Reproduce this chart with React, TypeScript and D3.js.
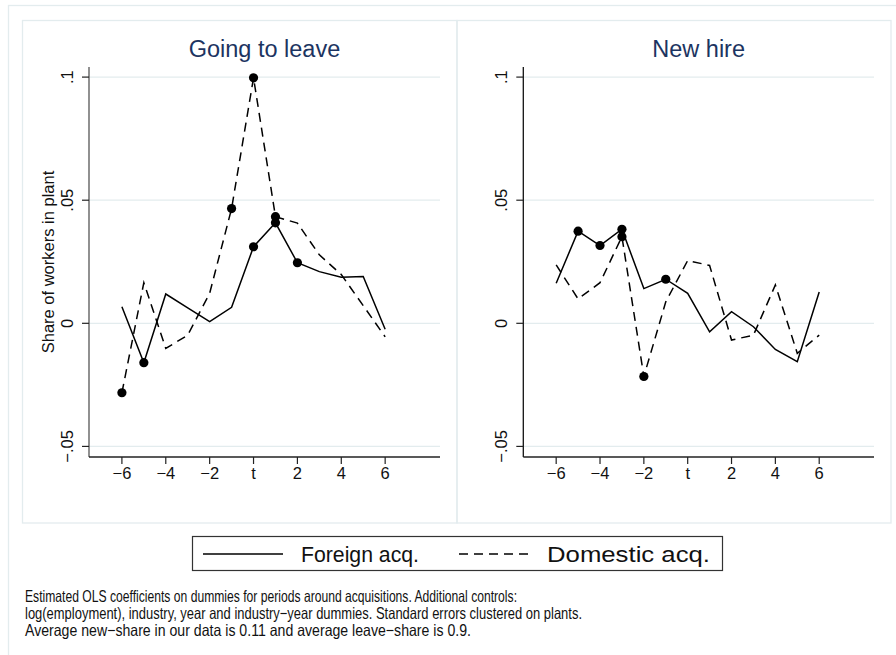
import React from "react";
import * as d3 from "d3";

// ---------- data ----------
const periods = [-6, -5, -4, -3, -2, -1, 0, 1, 2, 3, 4, 5, 6];
const xTicks = [-6, -4, -2, 0, 2, 4, 6];
const xTickLabels = ["−6", "−4", "−2", "t", "2", "4", "6"];
const yTicks = [-0.05, 0, 0.05, 0.1];
const yTickLabels = ["−.05", "0", ".05", ".1"];

const leaveForeign = [0.0067, -0.016, 0.0119, 0.0063, 0.0007, 0.0065, 0.0311, 0.0408, 0.0246, 0.021, 0.0187, 0.019, -0.0024];
const leaveForeignSig = [-5, 0, 1, 2];
const leaveDomestic = [-0.0282, 0.0165, -0.0102, -0.0048, 0.0122, 0.0466, 0.0997, 0.0433, 0.0407, 0.0278, 0.0198, 0.0072, -0.0055];
const leaveDomesticSig = [-6, -1, 0, 1];

const hireForeign = [0.0163, 0.0374, 0.0316, 0.0382, 0.0141, 0.0179, 0.0122, -0.0035, 0.0047, -0.0014, -0.0106, -0.0156, 0.0127];
const hireForeignSig = [-5, -4, -3, -1];
const hireDomestic = [0.0237, 0.0099, 0.0165, 0.0352, -0.0216, 0.0087, 0.0255, 0.0235, -0.0068, -0.0048, 0.0156, -0.0122, -0.0048];
const hireDomesticSig = [-3, -2];

const panelTitles = ["Going to leave", "New hire"];
const yTitle = "Share of workers in plant";
const legendLabels = ["Foreign acq.", "Domestic acq."];
const noteLines = [
  "Estimated OLS coefficients on dummies for periods around acquisitions. Additional controls:",
  "log(employment), industry, year and industry−year dummies. Standard errors clustered on plants.",
  "Average new−share in our data is 0.11 and average leave−share is 0.9.",
];
const noteWidths = [492, 557, 446];

const FONT = "'Liberation Sans', Arial, Helvetica, sans-serif";
const FRAME = "#e3ecee";
const GRID = "#e3ecee";
const TITLE = "#1c3461";
const DASH = "9,6";

type Series = { values: number[]; sig: number[]; dashed: boolean };

function Panel({ x0, x1, title, series, showYTitle, axisColor }: { x0: number; x1: number; title: string; series: Series[]; showYTitle: boolean; axisColor: string }) {
  const yTop = 67;
  const yBot = 457;
  const x = d3.scaleLinear().domain([-7.5, 8.5]).range([x0, x1]);
  const y = d3.scaleLinear().domain([-0.0543, 0.1041]).range([yBot, yTop]);
  const line = d3
    .line<number>()
    .x((_, i) => x(periods[i]))
    .y((d) => y(d));
  const labelX = x0 - 22;
  return (
    <g>
      {yTicks.map((t) => (
        <line key={"g" + t} x1={x0} x2={x1} y1={y(t)} y2={y(t)} stroke={GRID} strokeWidth={1.2} />
      ))}
      <line x1={x0} x2={x0} y1={yTop} y2={yBot} stroke={axisColor} strokeWidth={1.3} />
      <line x1={x0} x2={x1} y1={yBot} y2={yBot} stroke="#222" strokeWidth={1.3} />
      {yTicks.map((t, i) => (
        <g key={"yt" + t}>
          <line x1={x0 - 7} x2={x0} y1={y(t)} y2={y(t)} stroke="#222" strokeWidth={1.2} />
          <text
            transform={`translate(${labelX},${y(t)}) rotate(-90)`}
            textAnchor="middle"
            dominantBaseline="central"
            fontSize={16.5}
            fill="#111"
          >
            {yTickLabels[i]}
          </text>
        </g>
      ))}
      {xTicks.map((t, i) => (
        <g key={"xt" + t}>
          <line x1={x(t)} x2={x(t)} y1={yBot} y2={yBot + 7} stroke="#222" strokeWidth={1.2} />
          <text x={x(t)} y={yBot + 22} textAnchor="middle" fontSize={16.5} fill="#111">
            {xTickLabels[i]}
          </text>
        </g>
      ))}
      <text x={(x0 + x1) / 2} y={57} textAnchor="middle" fontSize={23.5} fill={TITLE}>
        {title}
      </text>
      {showYTitle && (
        <text
          transform={`translate(48,${(yTop + yBot) / 2}) rotate(-90)`}
          textAnchor="middle"
          dominantBaseline="central"
          fontSize={16.5}
          fill="#111"
        >
          {yTitle}
        </text>
      )}
      {series.map((s, si) => (
        <g key={"s" + si}>
          <path
            d={line(s.values) || ""}
            fill="none"
            stroke="#000"
            strokeWidth={1.5}
            strokeDasharray={s.dashed ? DASH : undefined}
          />
          {s.sig.map((p) => (
            <circle key={p} cx={x(p)} cy={y(s.values[periods.indexOf(p)])} r={4.6} fill="#000" />
          ))}
        </g>
      ))}
    </g>
  );
}

export default function App() {
  const legendY = 554;
  return (
    <svg
      width={896}
      height={655}
      style={{ position: "absolute", left: 0, top: 0, background: "#fff" }}
      fontFamily={FONT}
    >
      <rect x={0} y={0} width={896} height={655} fill="#fff" />
      <rect x={8.5} y={5.5} width={900} height={700} fill="none" stroke={FRAME} strokeWidth={1.3} />
      <rect x={22.5} y={20.5} width={434.5} height={502.5} fill="none" stroke={FRAME} strokeWidth={1.3} />
      <rect x={457} y={20.5} width={434} height={502.5} fill="none" stroke={FRAME} strokeWidth={1.3} />
      <Panel
        x0={89}
        x1={440}
        title={panelTitles[0]}
        showYTitle={true}
        axisColor="#555"
        series={[
          { values: leaveForeign, sig: leaveForeignSig, dashed: false },
          { values: leaveDomestic, sig: leaveDomesticSig, dashed: true },
        ]}
      />
      <Panel
        x0={523.3}
        x1={874}
        title={panelTitles[1]}
        showYTitle={false}
        axisColor="#111"
        series={[
          { values: hireForeign, sig: hireForeignSig, dashed: false },
          { values: hireDomestic, sig: hireDomesticSig, dashed: true },
        ]}
      />
      {/* legend */}
      <rect x={192.5} y={536.5} width={530} height={34} fill="#fff" stroke="#333" strokeWidth={1.2} />
      <line x1={203} x2={283} y1={legendY} y2={legendY} stroke="#000" strokeWidth={1.5} />
      <text x={301} y={legendY + 8} fontSize={22} textLength={118} lengthAdjust="spacingAndGlyphs" fill="#111">
        {legendLabels[0]}
      </text>
      <line x1={459} x2={534} y1={legendY} y2={legendY} stroke="#000" strokeWidth={1.5} strokeDasharray={DASH} />
      <text x={547} y={legendY + 8} fontSize={22} textLength={163} lengthAdjust="spacingAndGlyphs" fill="#111">
        {legendLabels[1]}
      </text>
      {noteLines.map((l, i) => (
        <text
          key={i}
          x={25}
          y={602 + i * 17}
          fontSize={16.5}
          textLength={noteWidths[i]}
          lengthAdjust="spacingAndGlyphs"
          fill="#111"
        >
          {l}
        </text>
      ))}
    </svg>
  );
}
